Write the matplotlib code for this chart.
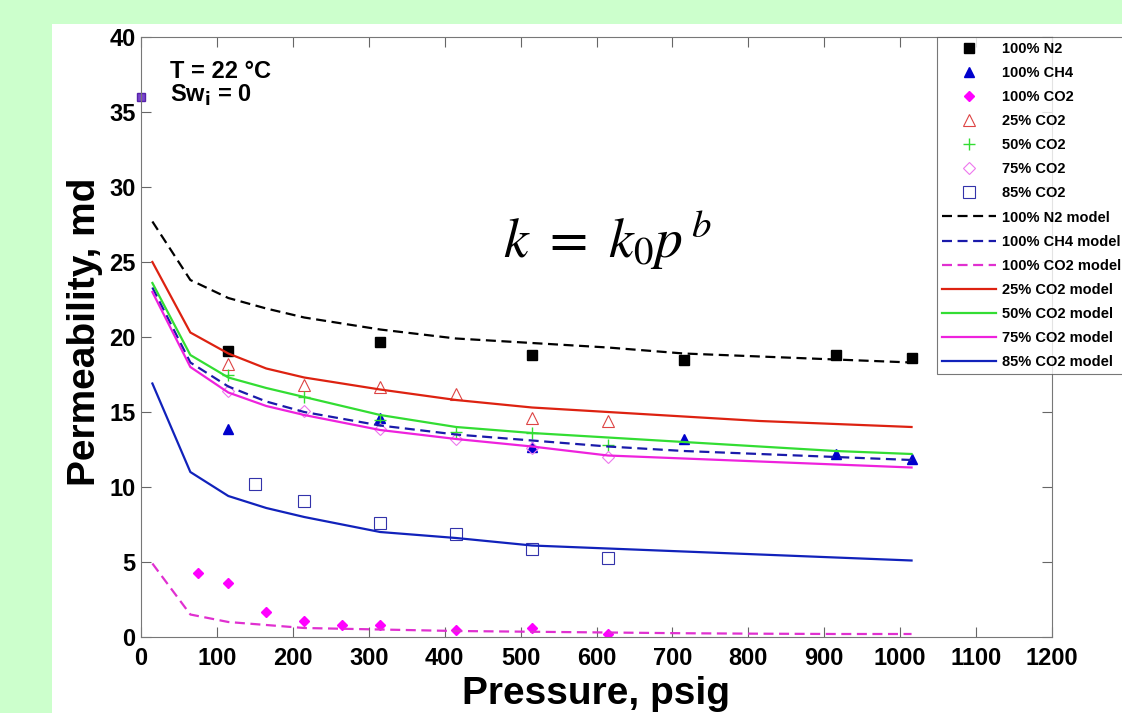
import numpy as np
import matplotlib
matplotlib.use("Agg")
from matplotlib import pyplot as plt
from matplotlib.patches import Rectangle

# measured points (pressure psig, permeability md)
n2_p = [115, 315, 515, 715, 915, 1015]
n2_k = [19.1, 19.7, 18.8, 18.5, 18.8, 18.6]
ch4_p = [115, 315, 515, 715, 915, 1015]
ch4_k = [13.9, 14.6, 12.7, 13.2, 12.2, 11.9]
co2_p = [75, 115, 165, 215, 265, 315, 415, 515, 615]
co2_k = [4.3, 3.6, 1.7, 1.1, 0.8, 0.8, 0.5, 0.6, 0.2]
c25_p = [115, 215, 315, 415, 515, 615]
c25_k = [18.2, 16.8, 16.7, 16.2, 14.6, 14.4]
c50_p = [115, 215, 315, 415, 515, 615]
c50_k = [17.5, 16.0, 14.5, 13.7, 13.6, 12.8]
c75_p = [115, 215, 315, 415, 515, 615]
c75_k = [16.4, 15.1, 13.9, 13.2, 12.6, 12.0]
c85_p = [150, 215, 315, 415, 515, 615]
c85_k = [10.2, 9.1, 7.6, 6.9, 5.9, 5.3]
stray_p = [0]
stray_k = [36]

# model curves
mod_p = [15, 65, 115, 165, 215, 315, 415, 515, 615, 715, 815, 915, 1015]
n2_mod = [27.7, 23.8, 22.6, 21.9, 21.3, 20.5, 19.9, 19.6, 19.3, 18.9, 18.7, 18.5, 18.3]
ch4_mod = [23.3, 18.3, 16.7, 15.7, 15.0, 14.1, 13.5, 13.1, 12.7, 12.4, 12.2, 12.0, 11.8]
co2_mod = [4.9, 1.5, 1.0, 0.8, 0.6, 0.5, 0.4, 0.35, 0.3, 0.25, 0.22, 0.2, 0.2]
c25_mod = [25.0, 20.3, 18.9, 17.9, 17.3, 16.5, 15.8, 15.3, 15.0, 14.7, 14.4, 14.2, 14.0]
c50_mod = [23.6, 18.8, 17.3, 16.6, 16.0, 14.8, 14.0, 13.6, 13.3, 13.0, 12.7, 12.4, 12.2]
c75_mod = [23.0, 18.0, 16.3, 15.4, 14.8, 13.8, 13.2, 12.7, 12.1, 11.9, 11.7, 11.5, 11.3]
c85_mod = [16.9, 11.0, 9.4, 8.6, 8.0, 7.0, 6.6, 6.1, 5.9, 5.7, 5.5, 5.3, 5.1]

plt.rcParams['font.family'] = ['Liberation Sans', 'DejaVu Sans']

fig = plt.figure(figsize=(11.22, 7.13), dpi=100)
fig.patch.set_facecolor('#ccffcc')
fig.patches.append(Rectangle((52/1122, 0), 1, 1-24/713, transform=fig.transFigure,
                             facecolor='white', edgecolor='none', zorder=-10))

ax = fig.add_axes([141/1122, 1-637/713, 911/1122, 600/713])
ax.set_facecolor('none')

ax.plot(n2_p, n2_k, 's', color='black', ms=6.5, label='100% N2')
ax.plot(ch4_p, ch4_k, '^', color='#0000cc', ms=7.5, label='100% CH4')
ax.plot(co2_p, co2_k, 'D', color='#ff00ff', ms=5.5, label='100% CO2')
ax.plot(c25_p, c25_k, '^', mfc='none', mec='#dd4444', ms=8.5, mew=0.8, label='25% CO2')
ax.plot(c50_p, c50_k, '+', color='#33dd33', ms=8, mew=1, label='50% CO2')
ax.plot(c75_p, c75_k, 'D', mfc='none', mec='#ee77ee', ms=6, mew=0.8, label='75% CO2')
ax.plot(c85_p, c85_k, 's', mfc='none', mec='#3333aa', ms=8, mew=0.8, label='85% CO2')
ax.plot(stray_p, stray_k, 's', color='#7a44cc', mec='#5522aa', ms=6, clip_on=False)

dash = (4.5, 2.5)
ax.plot(mod_p, n2_mod, '--', color='black', lw=1.6, dashes=dash, label='100% N2 model')
ax.plot(mod_p, ch4_mod, '--', color='#1a1aaa', lw=1.6, dashes=dash, label='100% CH4 model')
ax.plot(mod_p, co2_mod, '--', color='#e030d0', lw=1.6, dashes=dash, label='100% CO2 model')
ax.plot(mod_p, c25_mod, '-', color='#dd2211', lw=1.6, label='25% CO2 model')
ax.plot(mod_p, c50_mod, '-', color='#33dd33', lw=1.6, label='50% CO2 model')
ax.plot(mod_p, c75_mod, '-', color='#ee22dd', lw=1.6, label='75% CO2 model')
ax.plot(mod_p, c85_mod, '-', color='#1122bb', lw=1.6, label='85% CO2 model')

ax.set_xlim(0, 1200)
ax.set_ylim(0, 40)
ax.set_xticks(np.arange(0, 1201, 100))
ax.set_yticks(np.arange(0, 41, 5))
ax.tick_params(direction='in', top=True, right=True, length=7, color='#666666',
               labelsize=17)
ax.tick_params(axis='x', pad=7)
ax.tick_params(axis='y', pad=4)
for lab in ax.get_xticklabels() + ax.get_yticklabels():
    lab.set_fontweight('bold')
for s in ax.spines.values():
    s.set_color('#777777')

ax.set_xlabel('Pressure, psig', fontsize=28, fontweight='bold')
ax.xaxis.label.set_va('baseline')
ax.xaxis.set_label_coords(0.5, -0.112)
ax.set_ylabel('Permeability, md', fontsize=28, fontweight='bold')
ax.yaxis.label.set_va('center')
ax.yaxis.set_label_coords(-0.062, 0.508)

ax.text(38, 37.3, 'T = 22 \u00b0C', fontsize=17, fontweight='bold', va='baseline')
ax.text(38, 35.7, 'Sw$_\\mathbf{i}$ = 0', fontsize=17, fontweight='bold', va='baseline')
ax.text(477, 25.3, r'$k\ =\ k_0p^{\,b}$', fontsize=40, math_fontfamily='stix',
        va='baseline')

leg = ax.legend(loc='upper left', bbox_to_anchor=(937/1122, 1-37/713),
                bbox_transform=fig.transFigure, numpoints=1,
                prop={'weight': 'bold', 'size': 10.5}, handlelength=3.7,
                labelspacing=0.69, frameon=True, fancybox=False, borderaxespad=0,
                handletextpad=0.4, borderpad=0.35)
leg.get_frame().set_edgecolor('#555555')
leg.get_frame().set_linewidth(0.8)

fig.savefig('out.png', dpi=100, facecolor=fig.get_facecolor())
